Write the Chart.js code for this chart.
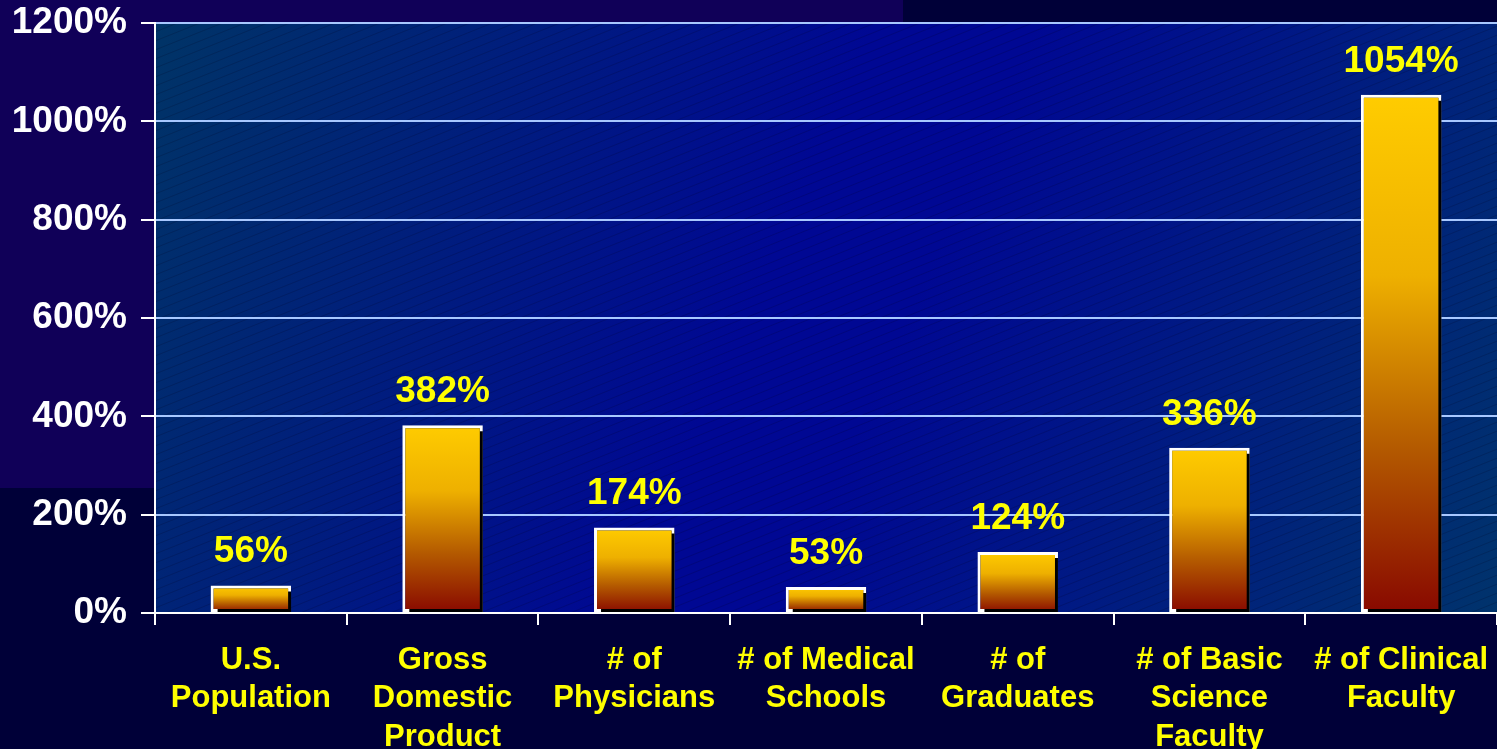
<!DOCTYPE html>
<html>
<head>
<meta charset="utf-8">
<script src="https://cdn.jsdelivr.net/npm/chart.js@4/dist/chart.umd.min.js"></script>
<style>
  html, body { margin: 0; padding: 0; background: #000038; }
  #wrap { width: 1497px; height: 749px; position: relative; }
</style>
</head>
<body>
<div id="wrap"><canvas id="chart-growth"></canvas></div>
<script>
const categories = [
  ['U.S.', 'Population'],
  ['Gross', 'Domestic', 'Product'],
  ['# of', 'Physicians'],
  ['# of Medical', 'Schools'],
  ['# of', 'Graduates'],
  ['# of Basic', 'Science', 'Faculty'],
  ['# of Clinical', 'Faculty']
];
const growthPct = [56, 382, 174, 53, 124, 336, 1054];
const yTicks = [0, 200, 400, 600, 800, 1000, 1200];

const FONT = '"Liberation Sans", Arial, sans-serif';
const YELLOW = '#ffff00';

// --- bar fill: yellow at the top fading to dark red at the base, per bar ---
function barGradient(context) {
  const chart = context.chart;
  const { ctx, chartArea, scales } = chart;
  if (!chartArea || context.dataIndex === undefined) return '#e0a000';
  const v = context.dataset.data[context.dataIndex];
  const top = scales.y.getPixelForValue(v);
  const base = scales.y.getPixelForValue(0);
  const g = ctx.createLinearGradient(0, top, 0, base);
  g.addColorStop(0, '#ffcc00');
  g.addColorStop(0.35, '#eeb000');
  g.addColorStop(0.68, '#b45a00');
  g.addColorStop(1, '#880800');
  return g;
}

// --- slide background + plot area panel ---
const backdrop = {
  id: 'backdrop',
  beforeDraw(chart) {
    const { ctx, width, height, chartArea: a } = chart;
    ctx.save();
    ctx.fillStyle = '#000038';
    ctx.fillRect(0, 0, width, height);
    ctx.fillStyle = '#100058';
    ctx.fillRect(0, 0, 903, 488);

    const g = ctx.createLinearGradient(a.left, a.top, a.right, a.bottom);
    g.addColorStop(0, '#003466');
    g.addColorStop(0.45, '#000893');
    g.addColorStop(0.55, '#000893');
    g.addColorStop(1, '#00336c');
    ctx.fillStyle = g;
    ctx.fillRect(a.left, a.top, a.right - a.left, a.bottom - a.top);

    // faint diagonal hatching across the panel
    ctx.beginPath();
    ctx.rect(a.left, a.top, a.right - a.left, a.bottom - a.top);
    ctx.clip();
    ctx.strokeStyle = 'rgba(0,0,30,0.18)';
    ctx.lineWidth = 1;
    const slope = 0.4;
    const w = a.right - a.left;
    for (let y = a.top; y < a.bottom + w * slope; y += 9) {
      ctx.beginPath();
      ctx.moveTo(a.left, y);
      ctx.lineTo(a.right, y - w * slope);
      ctx.stroke();
    }
    ctx.restore();
  }
};

// --- drop shadow on bars and value labels above them ---
const barDecor = {
  id: 'barDecor',
  beforeDatasetsDraw(chart) {
    const ctx = chart.ctx;
    ctx.save();
    ctx.shadowColor = '#000000';
    ctx.shadowOffsetX = 4;
    ctx.shadowOffsetY = 3;
    ctx.shadowBlur = 0;
  },
  afterDatasetsDraw(chart) {
    const ctx = chart.ctx;
    ctx.restore();
    ctx.save();
    ctx.font = `bold 37px ${FONT}`;
    ctx.fillStyle = YELLOW;
    ctx.textAlign = 'center';
    ctx.textBaseline = 'alphabetic';
    chart.getDatasetMeta(0).data.forEach((bar, i) => {
      ctx.fillText(growthPct[i] + '%', bar.x, bar.y - 23);
    });
    ctx.restore();
  }
};

const ctx = document.getElementById('chart-growth').getContext('2d');
new Chart(ctx, {
  type: 'bar',
  data: {
    labels: categories,
    datasets: [{
      data: growthPct,
      backgroundColor: barGradient,
      borderColor: '#ffffff',
      borderWidth: 3,
      borderSkipped: false,
      barPercentage: 0.42,
      categoryPercentage: 1
    }]
  },
  options: {
    responsive: true,
    maintainAspectRatio: false,
    animation: false,
    layout: { padding: { top: 23, right: 0, left: 0, bottom: 0 } },
    plugins: { legend: { display: false }, tooltip: { enabled: false } },
    scales: {
      x: {
        afterFit(scale) {
          scale.height = 136;
          scale.paddingLeft = 0;
          scale.paddingRight = 0;
        },
        grid: {
          offset: true,
          drawOnChartArea: false,
          tickColor: '#ffffff',
          tickLength: 12,
          lineWidth: 2
        },
        border: { color: '#ffffff', width: 2 },
        ticks: {
          color: YELLOW,
          padding: 16,
          maxRotation: 0,
          autoSkip: false,
          font: { family: FONT, size: 31, weight: 'bold', lineHeight: 1.24 }
        }
      },
      y: {
        min: 0,
        max: 1200,
        afterFit(scale) {
          scale.width = 155;
          scale.paddingTop = 0;
          scale.paddingBottom = 0;
        },
        afterBuildTicks(scale) { scale.ticks = yTicks.map(v => ({ value: v })); },
        grid: {
          color: '#a8c8ff',
          tickColor: '#ffffff',
          tickLength: 14,
          lineWidth: 2
        },
        border: { color: '#ffffff', width: 2 },
        ticks: {
          color: '#ffffff',
          padding: 14,
          callback: v => v + '%',
          font: { family: FONT, size: 37, weight: 'bold' }
        }
      }
    }
  },
  plugins: [backdrop, barDecor]
});
</script>
</body>
</html>
